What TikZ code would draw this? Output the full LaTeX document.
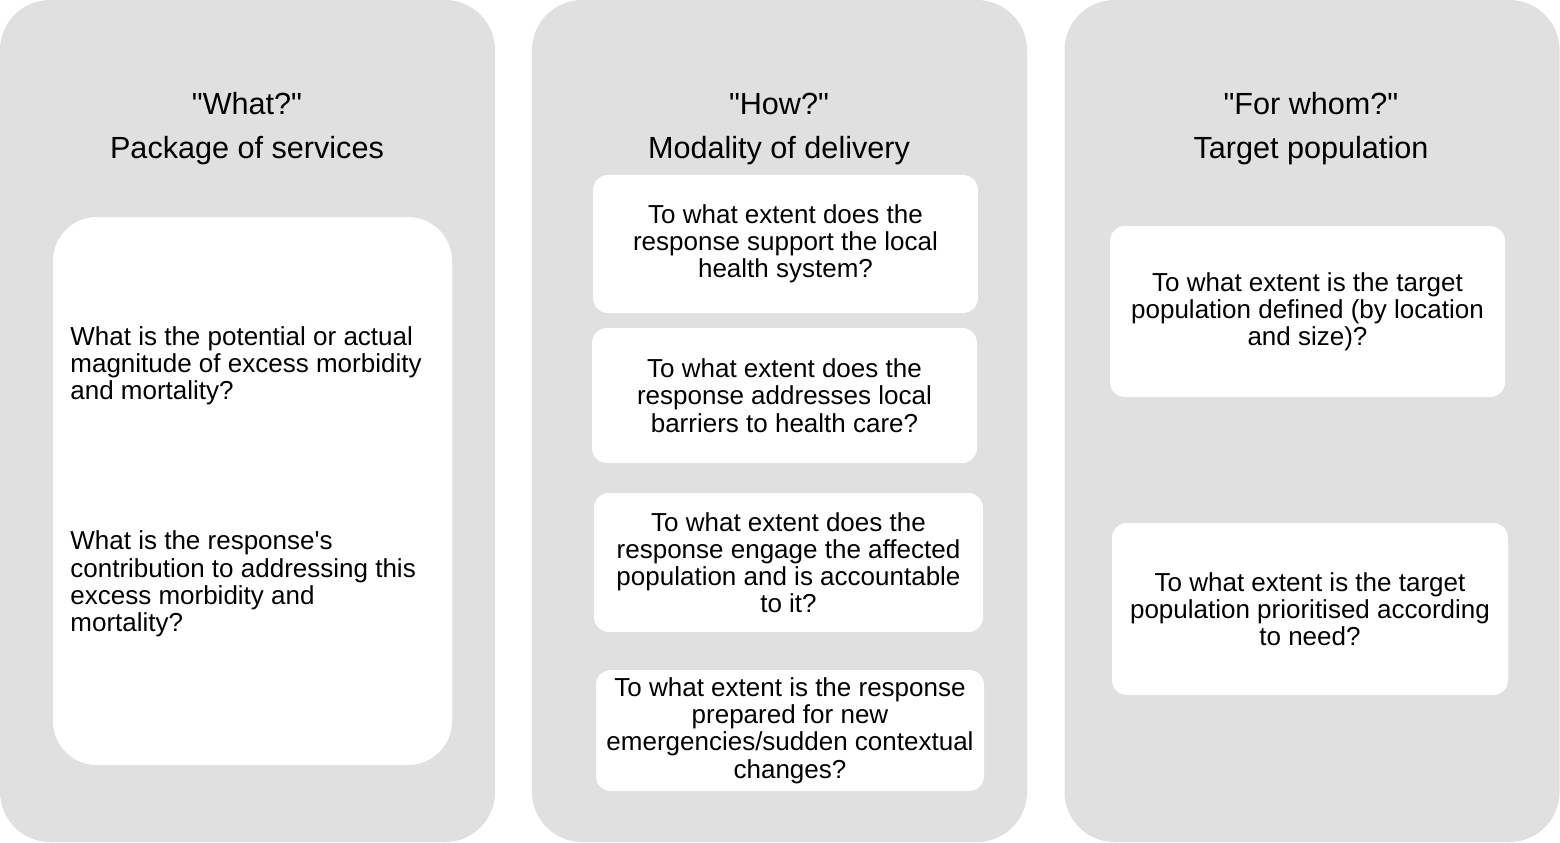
\documentclass[tikz,border=0pt]{standalone}
\usepackage{fontspec}
\setmainfont{Liberation Sans}
\usetikzlibrary{positioning}
\definecolor{panelgray}{HTML}{E0E0E0}

\begin{document}
\begin{tikzpicture}[
            x=0.5pt, y=-0.5pt,
            panel/.style={
                fill=panelgray,
                rounded corners=25pt,
                minimum width=247.5pt,
                minimum height=421pt,
                inner sep=0pt
            },
            title/.style={
                align=center,
                font=\fontsize{15.3}{22}\selectfont
            },
            qbox/.style={
                fill=white,
                rounded corners=7.5pt,
                align=center,
                inner sep=0pt,
                font=\fontsize{13}{13.6}\selectfont
            },
            qtext/.style={
                align=left,
                inner sep=0pt,
                font=\fontsize{13}{13.6}\selectfont
            }
        ]
        \useasboundingbox (0,0) rectangle (1560,842);

        % Three columns
        \node[panel] (what) at (247.5,421) {};
        \node[panel] (how) at (779.5,421) {};
        \node[panel] (whom) at (1312,421) {};

        % Column headings
        \node[title] (whatT) at (247,129) {\textquotedbl What?\textquotedbl\\Package of services};
        \node[title] (howT) at (779,129) {\textquotedbl How?\textquotedbl\\Modality of delivery};
        \node[title] (whomT) at (1311,129) {\textquotedbl For whom?\textquotedbl\\Target population};

        % "What?" column
        \node[qbox, rounded corners=22pt, minimum width=199.5pt, minimum height=274pt]
            (whatbox) at (252.5,491) {};
        \node[qtext, anchor=west] (whatq1) at (70,366) {What is the potential or actual\\magnitude of excess morbidity\\and mortality?};
        \node[qtext, anchor=west] (whatq2) at (70,584) {What is the response\textquotesingle s\\contribution to addressing this\\excess morbidity and\\mortality?};

        % "How?" column
        \node[qbox, minimum width=192.5pt, minimum height=69pt] (howq1) at (785.5,244)
            {To what extent does the\\response support the local\\health system?};
        \node[qbox, minimum width=192.5pt, minimum height=67.5pt] (howq2) at (784.5,395.5)
            {To what extent does the\\response addresses local\\barriers to health care?};
        \node[qbox, minimum width=194.5pt, minimum height=69.5pt] (howq3) at (788.5,562.5)
            {To what extent does the\\response engage the affected\\population and is accountable\\to it?};
        \node[qbox, minimum width=194pt, minimum height=60.5pt] (howq4) at (790,730.5)
            {To what extent is the response\\prepared for new\\emergencies/sudden contextual\\changes?};

        % "For whom?" column
        \node[qbox, minimum width=197.5pt, minimum height=85.5pt] (whomq1) at (1307.5,311.5)
            {To what extent is the target\\population defined (by location\\and size)?};
        \node[qbox, minimum width=198pt, minimum height=86pt] (whomq2) at (1310,609)
            {To what extent is the target\\population prioritised according\\to need?};

        \end{tikzpicture}
\end{document}
